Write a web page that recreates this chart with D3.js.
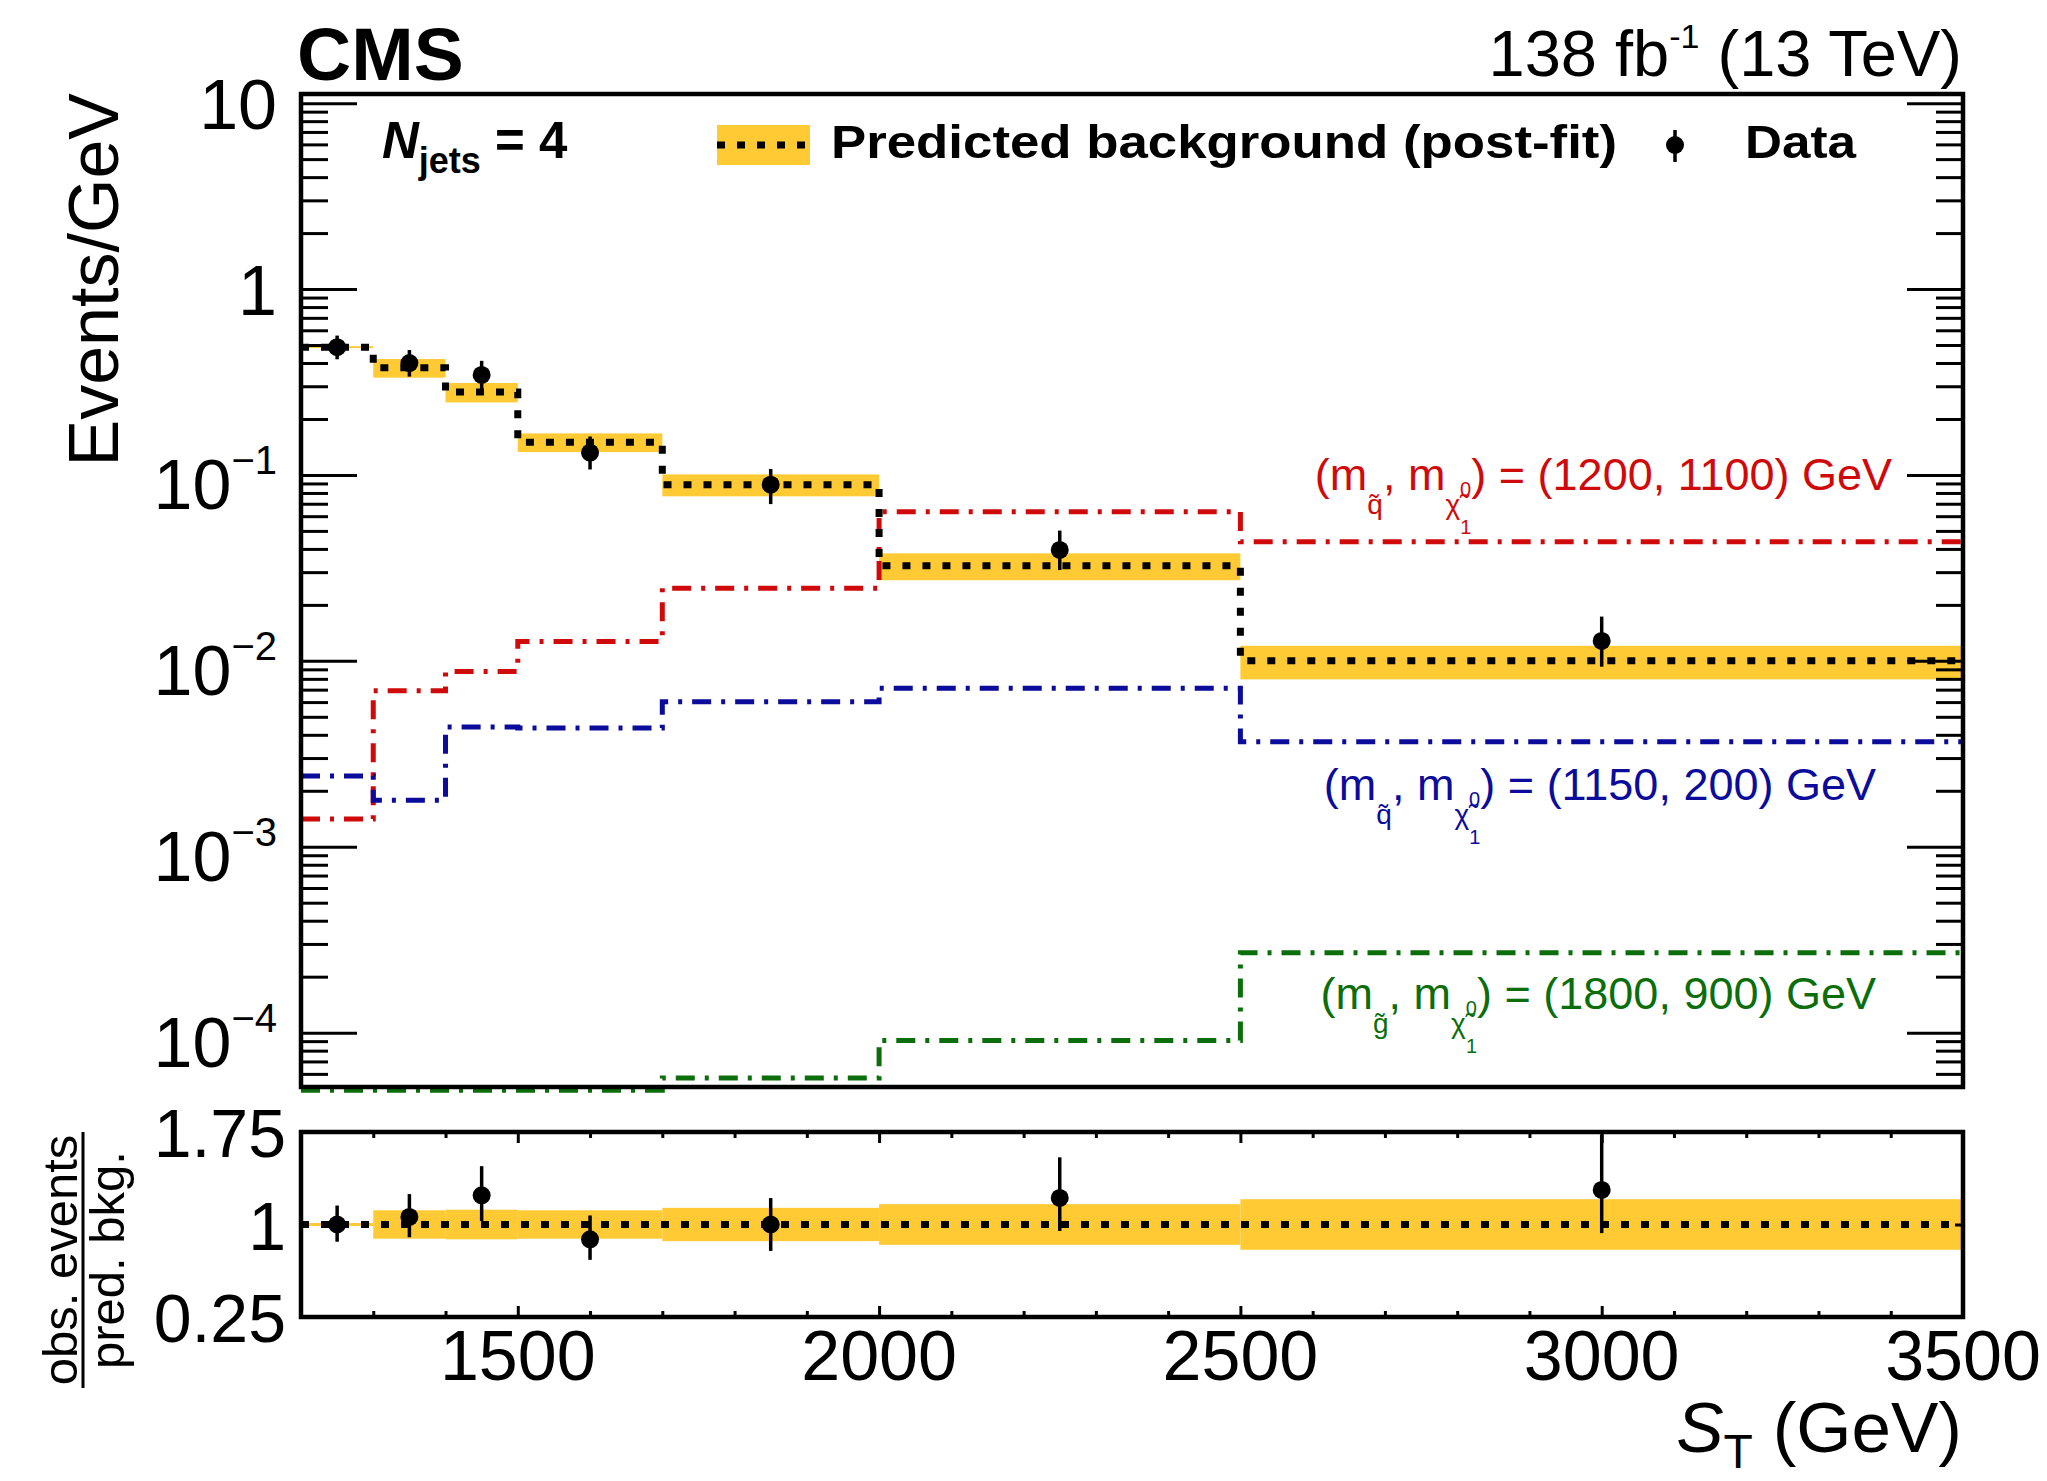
<!DOCTYPE html>
<html>
<head>
<meta charset="utf-8">
<script src="https://cdn.jsdelivr.net/npm/d3@7"></script>
<style>
  body { margin: 0; background: #fff; }
  svg text { font-family: "Liberation Sans", Arial, Helvetica, sans-serif; fill: #000; }
</style>
</head>
<body>
<div id="chart"></div>
<script>
const w = 2047;
const h = 1481;

// S_T bins (GeV)
const binEdges = [1200, 1300, 1400, 1500, 1700, 2000, 2500, 3500];
// predicted background, post-fit (events / GeV) and its relative uncertainty
const bkgPostFit = [0.487, 0.377, 0.279, 0.150, 0.0887, 0.0325, 0.0100];
const bkgRelUnc = [0.012, 0.115, 0.12, 0.115, 0.135, 0.165, 0.205];

// observed data (events / GeV) at bin centres
const dataST = [1250, 1350, 1450, 1600, 1850, 2250, 3000];
const dataEvents = [0.487, 0.400, 0.345, 0.132, 0.0887, 0.0395, 0.0128];
const dataErrLow = [0.068, 0.062, 0.058, 0.025, 0.019, 0.0087, 0.0035];
const dataErrHigh = [0.075, 0.070, 0.066, 0.029, 0.019, 0.0107, 0.0045];

// signal models (events / GeV)
const sigSquark1200 = [1.41e-3, 6.91e-3, 8.75e-3, 0.0127, 0.0246, 0.0634, 0.0437];
const sigSquark1150 = [2.40e-3, 1.78e-3, 4.41e-3, 4.35e-3, 6.03e-3, 7.12e-3, 3.67e-3];
const sigGluino1800 = [4.9e-5, 4.9e-5, 4.9e-5, 4.9e-5, 5.7e-5, 9.07e-5, 2.69e-4];

const ratioTicks = [0.25, 1, 1.75];
const xLabelTicks = [1500, 2000, 2500, 3000, 3500];

const bandColor = "#ffca33";
const red = "#d00a0a", blue = "#0b0b9c", green = "#0b6e0b";

// panel geometry
const plotL = 301, plotR = 1963;
const upTop = 94, upBot = 1087;
const loTop = 1132, loBot = 1317;

const x = d3.scaleLinear().domain([1200, 3500]).range([plotL, plotR]);
const yUp = d3.scaleLog().domain([5.1e-5, 11.2]).range([upBot, upTop]);
const yLo = d3.scaleLinear().domain([0.25, 1.75]).range([loBot, loTop]);

const svg = d3.select("#chart").append("svg").attr("width", w).attr("height", h);

function stepPoints(vals) {
    let pts = vals.map((v, i) => [binEdges[i], v]);
    pts.push([binEdges[binEdges.length - 1], vals[vals.length - 1]]);
    return pts;
}

const bins = bkgPostFit.map((v, i) => ({x0: binEdges[i], x1: binEdges[i + 1], v: v, u: bkgRelUnc[i]}));

// ---------- upper panel ----------
const up = svg.append("g");

up.selectAll("rect.band")
    .data(bins)
    .enter()
    .append("rect")
    .attr("class", "band")
    .attr("x", d => x(d.x0))
    .attr("width", d => x(d.x1) - x(d.x0))
    .attr("y", d => yUp(d.v * (1 + d.u)))
    .attr("height", d => yUp(d.v * (1 - d.u)) - yUp(d.v * (1 + d.u)))
    .style("fill", bandColor);

const lineUp = d3.line().x(d => x(d[0])).y(d => yUp(d[1])).curve(d3.curveStepAfter);

const signals = [
    {vals: sigSquark1200, color: red},
    {vals: sigSquark1150, color: blue},
    {vals: sigGluino1800, color: green}
];

signals.forEach(s => {
    up.append("path")
        .attr("d", lineUp(stepPoints(s.vals)))
        .style("fill", "none")
        .style("stroke", s.color)
        .style("stroke-width", 5)
        .style("stroke-dasharray", "19,10,4,10");
});

up.append("path")
    .attr("d", lineUp(stepPoints(bkgPostFit)))
    .style("fill", "none")
    .style("stroke", "#000")
    .style("stroke-width", 7)
    .style("stroke-dasharray", "8,12");

const pts = dataST.map((s, i) => ({s: s, v: dataEvents[i], lo: dataErrLow[i], hi: dataErrHigh[i], b: bkgPostFit[i]}));

up.selectAll("line.err")
    .data(pts)
    .enter()
    .append("line")
    .attr("x1", d => x(d.s)).attr("x2", d => x(d.s))
    .attr("y1", d => yUp(d.v - d.lo)).attr("y2", d => yUp(d.v + d.hi))
    .style("stroke", "#000").style("stroke-width", 3.5);

up.selectAll("circle.pt")
    .data(pts)
    .enter()
    .append("circle")
    .attr("cx", d => x(d.s)).attr("cy", d => yUp(d.v)).attr("r", 9)
    .style("fill", "#000");

// axes of upper panel
const isDecade = d => Math.abs(Math.log10(d) - Math.round(Math.log10(d))) < 1e-9;
const majorY = yUp.ticks().filter(isDecade);
const minorY = yUp.ticks().filter(d => !isDecade(d));

function tickAxis(axis, tx, ty) {
    const g = svg.append("g").attr("transform", `translate(${tx},${ty})`).call(axis);
    g.select(".domain").remove();
    g.selectAll("line").style("stroke", "#000").style("stroke-width", 3);
    return g;
}

tickAxis(d3.axisLeft(yUp).tickValues(majorY).tickSize(-56).tickFormat(""), plotL, 0);
tickAxis(d3.axisLeft(yUp).tickValues(minorY).tickSize(-27).tickFormat(""), plotL, 0);
tickAxis(d3.axisRight(yUp).tickValues(majorY).tickSize(-56).tickFormat(""), plotR, 0);
tickAxis(d3.axisRight(yUp).tickValues(minorY).tickSize(-27).tickFormat(""), plotR, 0);

majorY.forEach(d => {
    const e = Math.round(Math.log10(d));
    const t = svg.append("text")
        .attr("x", 277)
        .attr("text-anchor", "end")
        .style("font-size", "70px");
    if (e >= 0) {
        t.attr("y", yUp(d) + 26).text(e === 1 ? "10" : "1");
    } else {
        t.attr("y", yUp(d) + 34);
        t.append("tspan").text("10");
        t.append("tspan").attr("dy", -35).style("font-size", "40px").text("\u2212" + (-e));
    }
});

up.append("rect")
    .attr("x", plotL).attr("y", upTop)
    .attr("width", plotR - plotL).attr("height", upBot - upTop)
    .style("fill", "none").style("stroke", "#000").style("stroke-width", 4.5);

// ---------- lower (ratio) panel ----------
const lo = svg.append("g");

lo.selectAll("rect.band")
    .data(bins)
    .enter()
    .append("rect")
    .attr("x", d => x(d.x0))
    .attr("width", d => x(d.x1) - x(d.x0))
    .attr("y", d => yLo(1 + d.u))
    .attr("height", d => yLo(1 - d.u) - yLo(1 + d.u))
    .style("fill", bandColor);

lo.append("line")
    .attr("x1", x(1200)).attr("x2", x(3500))
    .attr("y1", yLo(1)).attr("y2", yLo(1))
    .style("stroke", "#000").style("stroke-width", 7).style("stroke-dasharray", "8,12");

lo.selectAll("line.err")
    .data(pts)
    .enter()
    .append("line")
    .attr("x1", d => x(d.s)).attr("x2", d => x(d.s))
    .attr("y1", d => yLo(Math.max(0.25, (d.v - d.lo) / d.b)))
    .attr("y2", d => yLo(Math.min(1.75, (d.v + d.hi) / d.b)))
    .style("stroke", "#000").style("stroke-width", 3.5);

lo.selectAll("circle.pt")
    .data(pts)
    .enter()
    .append("circle")
    .attr("cx", d => x(d.s)).attr("cy", d => yLo(d.v / d.b)).attr("r", 9)
    .style("fill", "#000");

const xMajor = x.ticks(23).filter(d => d % 500 === 0);
const xMinor = x.ticks(23).filter(d => d % 500 !== 0);

tickAxis(d3.axisBottom(x).tickValues(xMajor).tickSize(-11).tickFormat(""), 0, loBot);
tickAxis(d3.axisBottom(x).tickValues(xMinor).tickSize(-6).tickFormat(""), 0, loBot);
tickAxis(d3.axisTop(x).tickValues(xMajor).tickSize(-11).tickFormat(""), 0, loTop);
tickAxis(d3.axisTop(x).tickValues(xMinor).tickSize(-6).tickFormat(""), 0, loTop);
tickAxis(d3.axisLeft(yLo).tickValues(ratioTicks).tickSize(-8).tickFormat(""), plotL, 0);
tickAxis(d3.axisRight(yLo).tickValues(ratioTicks).tickSize(-8).tickFormat(""), plotR, 0);

lo.append("rect")
    .attr("x", plotL).attr("y", loTop)
    .attr("width", plotR - plotL).attr("height", loBot - loTop)
    .style("fill", "none").style("stroke", "#000").style("stroke-width", 4.5);

ratioTicks.forEach(d => {
    svg.append("text")
        .attr("x", 286).attr("y", yLo(d) + 25)
        .attr("text-anchor", "end")
        .style("font-size", "68px")
        .text(d === 1 ? "1" : d.toFixed(2));
});

xLabelTicks.forEach(d => {
    svg.append("text")
        .attr("x", x(d)).attr("y", 1380)
        .attr("text-anchor", "middle")
        .style("font-size", "70px")
        .text(d);
});

// ---------- titles ----------
svg.append("text")
    .attr("transform", "translate(118,93) rotate(-90)")
    .attr("text-anchor", "end")
    .style("font-size", "70px")
    .text("Events/GeV");

const fracY = 1260;
svg.append("text")
    .attr("transform", `translate(77,${fracY}) rotate(-90)`)
    .attr("text-anchor", "middle")
    .style("font-size", "49px")
    .text("obs. events");
svg.append("line")
    .attr("x1", 83).attr("x2", 83)
    .attr("y1", fracY - 128).attr("y2", fracY + 128)
    .style("stroke", "#000").style("stroke-width", 3);
svg.append("text")
    .attr("transform", `translate(124,${fracY}) rotate(-90)`)
    .attr("text-anchor", "middle")
    .style("font-size", "49px")
    .text("pred. bkg.");

const xt = svg.append("text")
    .attr("x", 1962).attr("y", 1452)
    .attr("text-anchor", "end")
    .style("font-size", "71px");
xt.append("tspan").style("font-style", "italic").text("S");
xt.append("tspan").attr("dy", 16).style("font-size", "48px").text("T");
xt.append("tspan").attr("dy", -16).text(" (GeV)");

svg.append("text")
    .attr("x", 297).attr("y", 80)
    .style("font-size", "75px").style("font-weight", "bold")
    .text("CMS");

const lumi = svg.append("text")
    .attr("x", 1962).attr("y", 76)
    .attr("text-anchor", "end")
    .style("font-size", "65px");
lumi.append("tspan").text("138 fb");
lumi.append("tspan").attr("dy", -28).style("font-size", "34px").text("-1");
lumi.append("tspan").attr("dy", 28).text(" (13 TeV)");

// ---------- legend ----------
const nj = svg.append("text")
    .attr("x", 382).attr("y", 158)
    .style("font-size", "51px").style("font-weight", "bold");
nj.append("tspan").style("font-style", "italic").text("N");
nj.append("tspan").attr("dy", 15).style("font-size", "36px").text("jets");
nj.append("tspan").attr("dy", -15).text(" = 4");

svg.append("rect")
    .attr("x", 717).attr("y", 125).attr("width", 93).attr("height", 40)
    .style("fill", bandColor);
svg.append("line")
    .attr("x1", 717).attr("x2", 810).attr("y1", 145).attr("y2", 145)
    .style("stroke", "#000").style("stroke-width", 7).style("stroke-dasharray", "8,12");
svg.append("text")
    .attr("x", 831).attr("y", 158)
    .attr("textLength", 786).attr("lengthAdjust", "spacingAndGlyphs")
    .style("font-size", "46px").style("font-weight", "bold")
    .text("Predicted background (post-fit)");
svg.append("line")
    .attr("x1", 1675).attr("x2", 1675).attr("y1", 130).attr("y2", 162)
    .style("stroke", "#000").style("stroke-width", 3.5);
svg.append("circle").attr("cx", 1675).attr("cy", 145).attr("r", 9).style("fill", "#000");
svg.append("text")
    .attr("x", 1745).attr("y", 158)
    .attr("textLength", 111).attr("lengthAdjust", "spacingAndGlyphs")
    .style("font-size", "46px").style("font-weight", "bold")
    .text("Data");

// signal labels
function massLabel(xEnd, yBase, sparticle, masses, color) {
    const t = svg.append("text")
        .attr("x", xEnd).attr("y", yBase)
        .attr("text-anchor", "end")
        .style("font-size", "45px")
        .style("fill", color);
    t.append("tspan").text("(m");
    t.append("tspan").attr("dy", 24).style("font-size", "28px").text(sparticle);
    t.append("tspan").attr("dy", -24).text(", m");
    t.append("tspan").attr("dy", 24).style("font-size", "28px").text("\u03c7\u0303");
    t.append("tspan").attr("dy", -18).style("font-size", "20px").text("0");
    t.append("tspan").attr("dx", -11).attr("dy", 38).style("font-size", "20px").text("1");
    t.append("tspan").attr("dy", -44).text(") = " + masses);
}

massLabel(1892, 490, "q\u0303", "(1200, 1100) GeV", red);
massLabel(1876, 800, "q\u0303", "(1150, 200) GeV", blue);
massLabel(1876, 1009, "g\u0303", "(1800, 900) GeV", green);
</script>
</body>
</html>
